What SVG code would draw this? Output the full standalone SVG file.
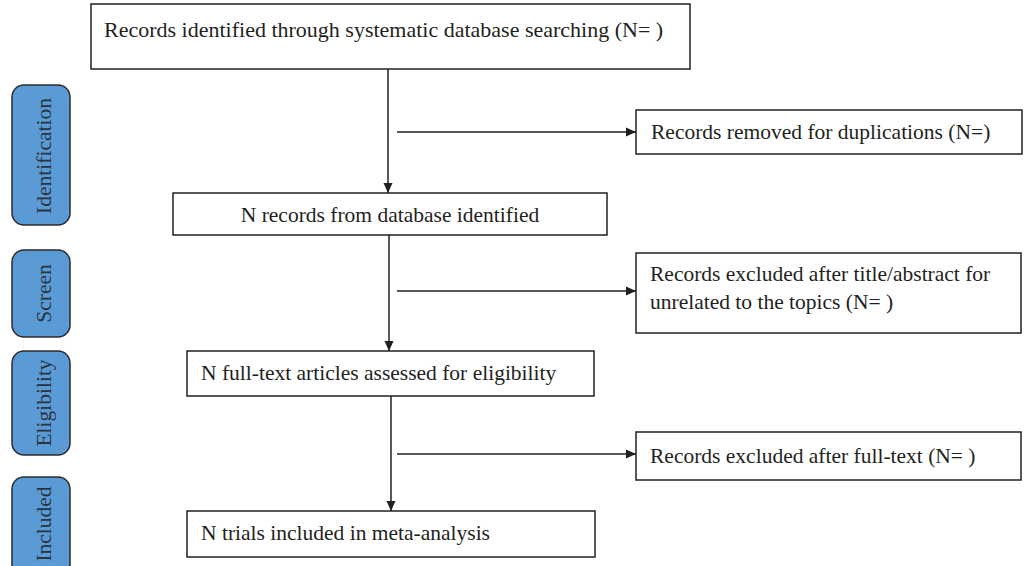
<svg xmlns="http://www.w3.org/2000/svg" width="1027" height="566" viewBox="0 0 1027 566">
<style>
  .box { fill: #ffffff; stroke: #231f20; stroke-width: 1.5; }
  .pill { fill: #5b9bd5; stroke: #2b2b2b; stroke-width: 1.5; }
  .t { font-family: "Liberation Serif", "Times New Roman", serif; font-size: 21.5px; fill: #231f20; }
  .pt { font-family: "Liberation Serif", "Times New Roman", serif; font-size: 21.5px; fill: #2a3340; }
  .c { stroke: #231f20; stroke-width: 1.5; fill: none; marker-end: url(#ah); }
</style>
<defs>
  <marker id="ah" viewBox="0 0 10 10" refX="10" refY="5" markerWidth="10" markerHeight="10" markerUnits="userSpaceOnUse" orient="auto">
    <path d="M0,0.5 L10,5 L0,9.5 Z" fill="#231f20"/>
  </marker>
</defs>
<rect width="1027" height="566" fill="#ffffff"/>

<g id="stage-identification">
  <rect class="pill" x="12" y="85" width="58" height="140" rx="12"/>
  <text class="pt" transform="translate(51,156) rotate(-90)" text-anchor="middle">Identification</text>
</g>
<g id="stage-screen">
  <rect class="pill" x="12" y="250" width="58" height="87" rx="12"/>
  <text class="pt" transform="translate(51,293.5) rotate(-90)" text-anchor="middle">Screen</text>
</g>
<g id="stage-eligibility">
  <rect class="pill" x="12" y="351" width="58" height="104" rx="12"/>
  <text class="pt" transform="translate(51,403) rotate(-90)" text-anchor="middle">Eligibility</text>
</g>
<g id="stage-included">
  <rect class="pill" x="12" y="477" width="58" height="100" rx="12"/>
  <text class="pt" transform="translate(51,524) rotate(-90)" text-anchor="middle">Included</text>
</g>

<g id="n-identified">
  <rect class="box" x="91" y="4" width="599" height="65"/>
  <text class="t" x="104" y="37" style="font-size:22px">Records identified through systematic database searching (N= )</text>
</g>
<g id="n-database">
  <rect class="box" x="173" y="193" width="434" height="42"/>
  <text class="t" x="390" y="222" text-anchor="middle">N records from database identified</text>
</g>
<g id="n-fulltext">
  <rect class="box" x="187" y="351" width="407" height="45"/>
  <text class="t" x="201" y="380">N full-text articles assessed for eligibility</text>
</g>
<g id="n-included">
  <rect class="box" x="187" y="511" width="408" height="46"/>
  <text class="t" x="201" y="540">N trials included in meta-analysis</text>
</g>
<g id="n-duplicates">
  <rect class="box" x="636" y="110" width="386" height="44"/>
  <text class="t" x="651" y="139">Records removed for duplications (N=)</text>
</g>
<g id="n-excl-title">
  <rect class="box" x="636" y="253" width="385" height="80"/>
  <text class="t" x="650" y="281">Records excluded after title/abstract for</text>
  <text class="t" x="650" y="309">unrelated to the topics (N= )</text>
</g>
<g id="n-excl-full">
  <rect class="box" x="636" y="432" width="385" height="48"/>
  <text class="t" x="650" y="463">Records excluded after full-text (N= )</text>
</g>

<g id="connectors">
  <line class="c" x1="388" y1="69" x2="388" y2="193"/>
  <line class="c" x1="389" y1="235" x2="389" y2="351"/>
  <line class="c" x1="391" y1="396" x2="391" y2="511"/>
  <line class="c" x1="397" y1="132" x2="636" y2="132"/>
  <line class="c" x1="397" y1="291" x2="636" y2="291"/>
  <line class="c" x1="397" y1="454" x2="636" y2="454"/>
</g>
</svg>
